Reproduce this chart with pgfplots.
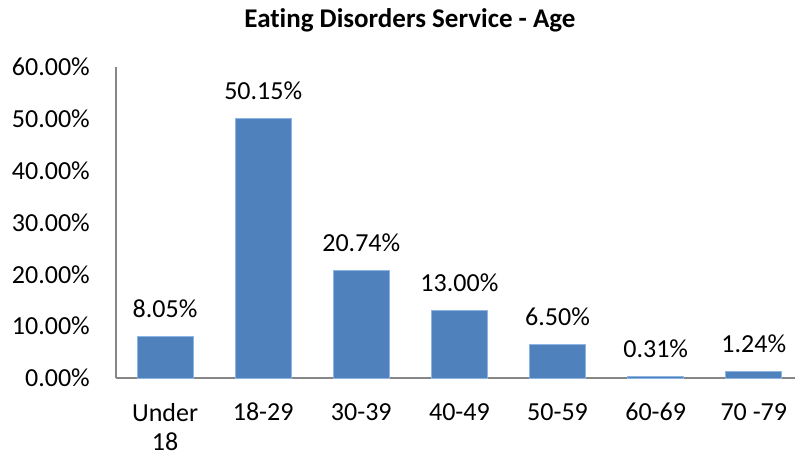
\documentclass[border=0pt]{standalone}
\usepackage{pgfplots}
\pgfplotsset{compat=1.18}
\usepackage{fontspec}
\setmainfont{Carlito}[Ligatures=NoCommon]
\definecolor{barblue}{HTML}{4F81BD}
\definecolor{baredge}{HTML}{8EB4E3}
\definecolor{axisgray}{HTML}{868686}

\begin{document}
\begin{tikzpicture}[x=1pt,y=1pt]
\useasboundingbox (0,0) rectangle (795,456);
\node[font=\fontsize{27}{30}\selectfont\bfseries] at (410,436) {Eating Disorders Service - Age};
\begin{axis}[
  at={(116pt,78pt)}, anchor=south west,
  scale only axis, width=679pt, height=311pt,
  xmin=-0.5, xmax=6.42, ymin=0, ymax=60,
  axis lines*=left,
  axis line style={axisgray, line width=1.2pt},
  x axis line style={-}, y axis line style={-},
  major tick length=0pt,
  xtick=data,
  xticklabels={{Under\\18},18-29,30-39,40-49,50-59,60-69,70 -79},
  ytick={0,10,20,30,40,50,60},
  yticklabels={0.00\%,10.00\%,20.00\%,30.00\%,40.00\%,50.00\%,60.00\%},
  tick label style={font=\fontsize{26}{29}\selectfont, inner sep=0pt},
  xticklabel style={anchor=north, align=center, yshift=-25pt},
  yticklabel style={anchor=east, xshift=-26pt},
  ybar, bar width=56pt,
  nodes near coords,
  point meta=explicit symbolic,
  every node near coord/.style={font=\fontsize{26}{30}\selectfont, anchor=base, inner sep=0pt, yshift=19pt, black},
  clip=false,
]
\addplot[fill=barblue, draw=baredge, line width=0.6pt] table[meta=label] {
x y label
0 8.05 8.05\%
1 50.15 50.15\%
2 20.74 20.74\%
3 13.00 13.00\%
4 6.50 6.50\%
5 0.31 0.31\%
6 1.24 1.24\%
};
\end{axis}
\end{tikzpicture}
\end{document}
